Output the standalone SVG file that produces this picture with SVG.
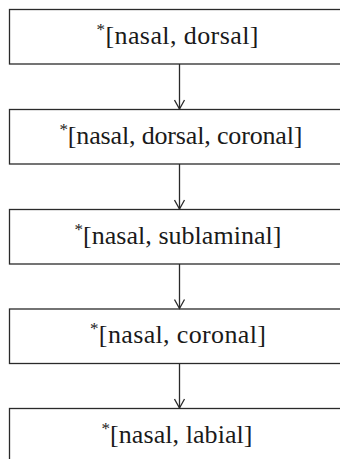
<svg xmlns="http://www.w3.org/2000/svg" width="340" height="459" viewBox="0 0 340 459">
  <style>
    .box { fill: #ffffff; stroke: #2a2a2a; stroke-width: 1.3; }
    .lbl { font-family: "Liberation Serif", "Times New Roman", serif; font-size: 26px; fill: #1a1a1a; text-anchor: middle; }
    .sup { font-size: 17px; }
    .edge { stroke: #2a2a2a; stroke-width: 1.3; fill: none; }
  </style>
  <defs>
    <marker id="vhead" viewBox="0 0 12 12" refX="11" refY="6" markerWidth="12" markerHeight="12" markerUnits="userSpaceOnUse" orient="auto">
      <path d="M2,1 L11,6 L2,11" fill="none" stroke="#2a2a2a" stroke-width="1.3"/>
    </marker>
  </defs>
  <rect width="340" height="459" fill="#ffffff"/>

  <g id="node1">
    <rect class="box" x="9.5" y="9.5" width="345" height="54.5"/>
    <text class="lbl" x="177.5" y="44" textLength="162"><tspan class="sup" dy="-9">*</tspan><tspan dy="9">[nasal, dorsal]</tspan></text>
  </g>
  <g id="node2">
    <rect class="box" x="9.5" y="109.5" width="345" height="54.5"/>
    <text class="lbl" x="181" y="144" textLength="243"><tspan class="sup" dy="-9">*</tspan><tspan dy="9">[nasal, dorsal, coronal]</tspan></text>
  </g>
  <g id="node3">
    <rect class="box" x="9.5" y="209.5" width="345" height="54.5"/>
    <text class="lbl" x="178" y="243.5" textLength="207"><tspan class="sup" dy="-9">*</tspan><tspan dy="9">[nasal, sublaminal]</tspan></text>
  </g>
  <g id="node4">
    <rect class="box" x="9.5" y="309" width="345" height="54.5"/>
    <text class="lbl" x="178" y="343" textLength="176"><tspan class="sup" dy="-9">*</tspan><tspan dy="9">[nasal, coronal]</tspan></text>
  </g>
  <g id="node5">
    <rect class="box" x="9.5" y="408.5" width="345" height="60"/>
    <text class="lbl" x="177" y="442.5" textLength="151"><tspan class="sup" dy="-9">*</tspan><tspan dy="9">[nasal, labial]</tspan></text>
  </g>

  <g id="connectors">
    <line class="edge" x1="179.5" y1="64" x2="179.5" y2="109" marker-end="url(#vhead)"/>
    <line class="edge" x1="179.5" y1="164" x2="179.5" y2="209" marker-end="url(#vhead)"/>
    <line class="edge" x1="179.5" y1="264" x2="179.5" y2="308.5" marker-end="url(#vhead)"/>
    <line class="edge" x1="179.5" y1="363.5" x2="179.5" y2="408" marker-end="url(#vhead)"/>
  </g>
</svg>
